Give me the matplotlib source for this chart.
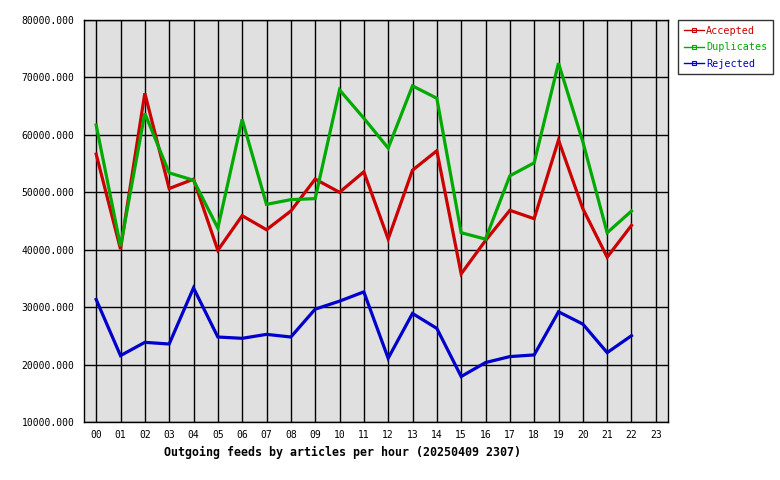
"""Outgoing feeds by articles per hour"""
import matplotlib
matplotlib.use("Agg")
import matplotlib.pyplot as plt
from matplotlib.lines import Line2D

hours = ["%02d" % h for h in range(24)]

accepted = [56650, 40100, 67250, 50650, 52280, 39900, 45930, 43480, 46740,
            52300, 50000, 53560, 41870, 53850, 57230, 35800, 41600, 46860,
            45400, 59090, 47150, 38700, 44240]
duplicates = [61710, 40600, 63750, 53380, 52100, 43770, 62700, 47900, 48720,
              48900, 67830, 62900, 57700, 68530, 66370, 42960, 41850, 52860,
              55130, 72490, 58800, 42960, 46740]
rejected = [31330, 21560, 23870, 23580, 33350, 24800, 24570, 25260, 24800,
            29650, 31040, 32660, 21100, 28900, 26300, 17920, 20350, 21390,
            21680, 29190, 27050, 22080, 25030]

series = [("Accepted", accepted, "#cc0000"),
          ("Duplicates", duplicates, "#00aa00"),
          ("Rejected", rejected, "#0000cc")]

plt.rcParams["font.family"] = ["DejaVu Sans Mono"]

fig = plt.figure(figsize=(7.8, 4.8), dpi=100)
ax = fig.add_axes([84 / 780, 58 / 480, 584 / 780, 402 / 480])
ax.set_facecolor("#e0e0e0")

# линии данных
for name, values, color in series:
    ax.plot(range(len(values)), values, color=color, linewidth=2.3,
            solid_joinstyle="miter", zorder=3)

ax.set_xlim(-0.5, 23.5)
ax.set_ylim(10000, 80000)
ax.set_xticks(range(24))
ax.set_xticklabels(hours)
ax.set_yticks(range(10000, 80001, 10000))
ax.set_yticklabels(["%.3f" % v for v in range(10000, 80001, 10000)])
ax.grid(True, color="black", linewidth=1)
ax.tick_params(axis="both", length=0, labelsize=7, colors="black")
ax.tick_params(axis="x", pad=6)
ax.tick_params(axis="y", pad=7)
for sp in ax.spines.values():
    sp.set_linewidth(1)

# подпись под осью, сдвинута влево как в оригинале
ax.set_xlabel("Outgoing feeds by articles per hour (20250409 2307)",
              fontsize=8.4, fontweight="bold")
ax.xaxis.set_label_coords((343 - 84) / 584, -0.06)

# легенда
handles = [Line2D([], [], color=c, linewidth=1, marker="s", markersize=3,
                  markerfacecolor="none", markeredgewidth=0.8)
           for _, _, c in series]
leg = fig.legend(handles, [s[0] for s in series], loc="upper left",
                 bbox_to_anchor=(678 / 780, 1 - 20 / 480), fontsize=7.3,
                 frameon=True, fancybox=False, edgecolor="black",
                 handlelength=2.0, handletextpad=0.2, labelspacing=0.65,
                 borderpad=0.55, borderaxespad=0)
leg.get_frame().set_linewidth(1)
for text, (_, _, c) in zip(leg.get_texts(), series):
    text.set_color(c)

fig.savefig("out.png", dpi=100)
